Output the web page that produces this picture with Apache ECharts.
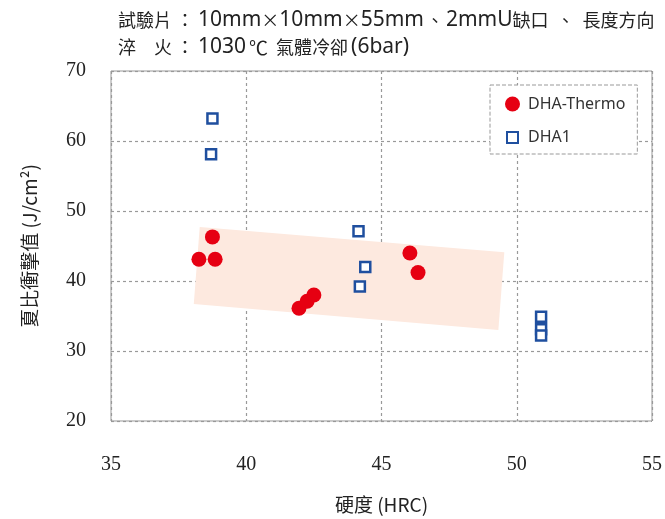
<!DOCTYPE html>
<html>
<head>
<meta charset="utf-8">
<script src="https://cdn.jsdelivr.net/npm/echarts@6/dist/echarts.min.js"></script>
<style>
html, body { margin: 0; padding: 0; background: #fff; }
#chart { width: 665px; height: 519px; }
</style>
</head>
<body>
<div id="chart"></div>
<script>
// DHA-Thermo (hardness HRC, charpy J/cm2)
var thermoX = [38.25, 38.75, 38.85, 41.95, 42.25, 42.5, 46.05, 46.35];
var thermoY = [43.1, 46.3, 43.1, 36.1, 37.1, 38.0, 44.0, 41.2];
// DHA1
var dha1X = [38.75, 38.7, 44.15, 44.4, 44.2, 50.9, 50.9, 50.9];
var dha1Y = [63.2, 58.1, 47.1, 42.0, 39.2, 34.9, 33.1, 32.2];
// shaded band corners
var bandX = [38.28, 49.54, 49.32, 38.06];
var bandY = [47.7, 44.1, 33.0, 36.7];

var xTicks = [35, 40, 45, 50, 55];
var yTicks = [20, 30, 40, 50, 60, 70];

function pairs(xs, ys) {
    return xs.map(function (x, i) { return [x, ys[i]]; });
}

var dom = document.getElementById("chart");
var myChart = echarts.init(dom);

var option = {
    animation: false,
    title: {
        text: '{c|試驗片 ： }{l|10mm}{c|×}{l|10mm}{c|×}{l|55mm}{p1|、}{l|2mmU}{c|缺口}{p2|、}{c|長度方向}\n' +
              '{c|淬　火 ： }{l|1030}{p3|℃}{p4|氣體冷卻}{l|(6bar)}',
        left: 113,
        top: 2,
        textStyle: {
            fontFamily: 'Noto Sans CJK TC',
            fontWeight: 'normal',
            fontSize: 18,
            lineHeight: 27,
            color: '#222',
            rich: {
                c: { fontFamily: 'Noto Sans CJK TC', fontSize: 18, lineHeight: 27, color: '#222' },
                p1: { fontFamily: 'Noto Sans CJK TC', fontSize: 18, lineHeight: 27, color: '#222', padding: [0, 2, 0, 2] },
                p2: { fontFamily: 'Noto Sans CJK TC', fontSize: 18, lineHeight: 27, color: '#222', padding: [0, 8, 0, 8] },
                p3: { fontFamily: 'Noto Sans CJK TC', fontSize: 19, lineHeight: 27, color: '#222', padding: [0, 8, 0, 3] },
                p4: { fontFamily: 'Noto Sans CJK TC', fontSize: 18, lineHeight: 27, color: '#222', padding: [0, 3, 0, 0] },
                l: { fontFamily: 'Noto Sans', fontSize: 21, lineHeight: 27, color: '#222' }
            }
        }
    },
    legend: {
        orient: 'vertical',
        left: 490,
        top: 85,
        padding: [11, 12, 8, 14],
        itemGap: 17,
        itemWidth: 15,
        itemHeight: 15,
        borderColor: '#999',
        borderWidth: 1,
        borderType: 'dashed',
        backgroundColor: '#fff',
        textStyle: { fontFamily: 'Noto Sans', fontSize: 16, color: '#333', padding: [0, 0, 0, 3] },
        data: [
            { name: 'DHA-Thermo', icon: 'circle' },
            { name: 'DHA1', icon: 'path://M0,0L0,0M2,2L13,2L13,13L2,13ZM15,15L15,15' }
        ]
    },
    grid: {
        left: 111,
        right: 13,
        top: 71,
        bottom: 97,
        show: true,
        borderColor: '#999',
        borderWidth: 1
    },
    xAxis: {
        type: 'value',
        min: xTicks[0],
        max: xTicks[xTicks.length - 1],
        interval: 5,
        name: '硬度 (HRC)',
        nameLocation: 'middle',
        nameGap: 74,
        nameTextStyle: { fontFamily: 'Noto Sans CJK TC', fontSize: 19, color: '#222' },
        axisLine: { show: false },
        axisTick: { show: false },
        axisLabel: { margin: 34, fontFamily: 'Liberation Serif', fontSize: 20, color: '#222' },
        splitLine: { lineStyle: { color: '#999', type: [3, 3], width: 1.2 } }
    },
    yAxis: {
        type: 'value',
        min: yTicks[0],
        max: yTicks[yTicks.length - 1],
        interval: 10,
        name: '夏比衝擊值 (J/cm²)',
        nameLocation: 'middle',
        nameGap: 72,
        nameTextStyle: { fontFamily: 'Noto Sans CJK TC', fontSize: 19, color: '#222' },
        axisLine: { show: false },
        axisTick: { show: false },
        axisLabel: { margin: 25, fontFamily: 'Liberation Serif', fontSize: 20, color: '#222' },
        splitLine: { lineStyle: { color: '#999', type: [3, 3], width: 1.2 } }
    },
    series: [
        {
            name: 'band',
            type: 'custom',
            silent: true,
            z: 1,
            data: [0],
            renderItem: function (params, api) {
                var pts = bandX.map(function (x, i) { return api.coord([x, bandY[i]]); });
                return {
                    type: 'polygon',
                    shape: { points: pts },
                    style: { fill: '#fde9df' }
                };
            }
        },
        {
            name: 'DHA-Thermo',
            type: 'scatter',
            z: 3,
            symbol: 'circle',
            symbolSize: 15,
            itemStyle: { color: '#e60012', opacity: 1 },
            data: pairs(thermoX, thermoY)
        },
        {
            name: 'DHA1',
            type: 'scatter',
            z: 3,
            symbol: 'rect',
            symbolSize: 10,
            itemStyle: { color: '#fff', borderColor: '#1f4f9f', borderWidth: 2.5, opacity: 1 },
            data: pairs(dha1X, dha1Y)
        }
    ]
};

if (option && typeof option === "object") {
    myChart.setOption(option, true);
}
</script>
</body>
</html>
